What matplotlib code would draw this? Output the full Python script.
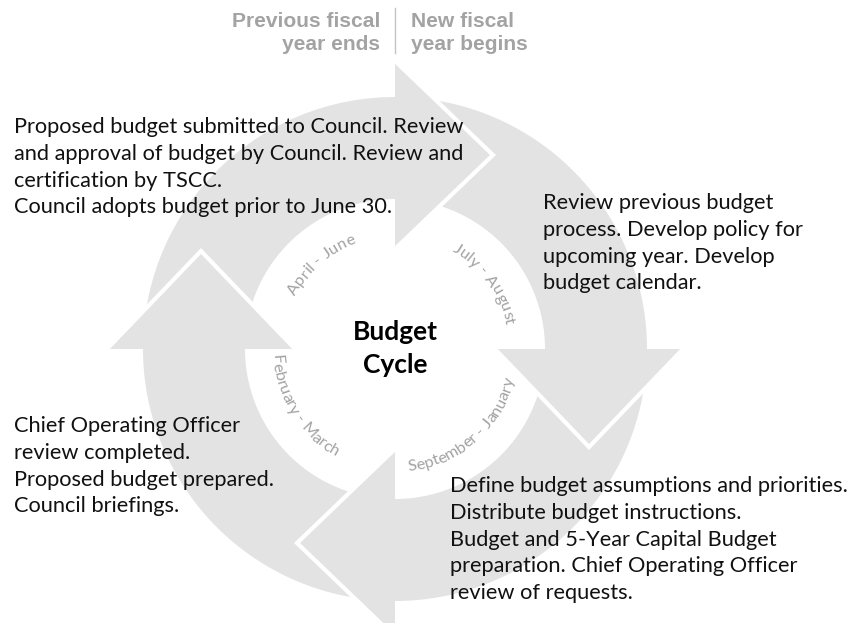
import numpy as np
import matplotlib
matplotlib.use('Agg')
import matplotlib.pyplot as plt
from matplotlib.patches import Polygon
from matplotlib.font_manager import FontProperties
from matplotlib.textpath import text_to_path

# header above the cycle
header_left = ['Previous fiscal', 'year ends']
header_right = ['New fiscal', 'year begins']

# periods written along the inner edge of the ring
periods = ['April - June', 'July - August', 'September - January', 'February - March']
period_angles = [131, 36, -49, 212]
period_clockwise = [True, True, False, False]

center_title = ['Budget', 'Cycle']

# step descriptions (one list of lines per block)
step_apr_jun = ['Proposed budget submitted to Council. Review',
                'and approval of budget by Council. Review and',
                'certification by TSCC.',
                'Council adopts budget prior to June 30.']
step_jul_aug = ['Review previous budget',
                'process. Develop policy for',
                'upcoming year. Develop',
                'budget calendar.']
step_sep_jan = ['Define budget assumptions and priorities.',
                'Distribute budget instructions.',
                'Budget and 5-Year Capital Budget',
                'preparation. Chief Operating Officer',
                'review of requests.']
step_feb_mar = ['Chief Operating Officer',
                'review completed.',
                'Proposed budget prepared.',
                'Council briefings.']

DPI = 100
W, H = 849, 623
cx, cy = 395, 349
body_in, body_out = 150, 252
head_in, head_out = 100, 288
head_len = 98
ring_color = '#e3e3e3'
PX = DPI / 72.0


def text_px(s, prop):
    w, h, d = text_to_path.get_text_width_height_descent(s, prop, ismath=False)
    return w * PX


def fit_size(s, target_px, prop):
    p = prop.copy()
    p.set_size(10)
    return 10 * target_px / text_px(s, p)


def to_screen(r, ang):
    a = np.radians(ang)
    return cx + r * np.cos(a), cy - r * np.sin(a)


def curved_text(ax, s, ang_c, r, clockwise, prop, color):
    total = text_px(s, prop)
    for i, ch in enumerate(s):
        if ch == ' ':
            continue
        right = text_px(s[:i + 1], prop)
        pos = right - text_px(ch, prop) / 2 - total / 2
        dth = np.degrees(pos / r)
        th = ang_c - dth if clockwise else ang_c + dth
        x, y = to_screen(r, th)
        rot = th - 90 if clockwise else th + 90
        ax.text(x, y, ch, rotation=rot, rotation_mode='anchor', ha='center',
                va='baseline', fontproperties=prop, color=color, zorder=5)


fig = plt.figure(figsize=(W / DPI, H / DPI), dpi=DPI)
ax = fig.add_axes([0, 0, 1, 1])
ax.set_xlim(0, W)
ax.set_ylim(H, 0)
ax.axis('off')

# ring: four arrows going clockwise, heads at top, right, bottom, left
head_angles = [90, 0, -90, -180]
for a_end in head_angles:
    a_start = a_end + 90
    t = np.linspace(a_start, a_end, 80)
    xo, yo = to_screen(body_out, t)
    xi, yi = to_screen(body_in, t[::-1])
    pts = np.column_stack([np.concatenate([xo, xi]), np.concatenate([yo, yi])])
    ax.add_patch(Polygon(pts, closed=True, facecolor=ring_color, edgecolor='none', zorder=1))

for a_end in head_angles:
    a = np.radians(a_end)
    mid = (head_in + head_out) / 2
    p_in = to_screen(head_in, a_end)
    p_out = to_screen(head_out, a_end)
    mx, my = to_screen(mid, a_end)
    tip = (mx + head_len * np.sin(a), my + head_len * np.cos(a))
    ax.add_patch(Polygon([p_in, p_out, tip], closed=True, facecolor=ring_color,
                         edgecolor='none', zorder=2))
    ax.plot([p_out[0], tip[0], p_in[0]], [p_out[1], tip[1], p_in[1]], color='white',
            lw=3, solid_joinstyle='miter', solid_capstyle='butt', zorder=3)

# period labels
lab_prop = FontProperties(family='Lato', size=11.8)
for s, ang, cw in zip(periods, period_angles, period_clockwise):
    curved_text(ax, s, ang, 113 if cw else 123, cw, lab_prop, '#a2a2a2')

# centre title
title_prop = FontProperties(family='Lato', weight='bold')
title_prop.set_size(fit_size('Budget', 85, title_prop))
for line, yb in zip(center_title, [340, 373]):
    ax.text(cx, yb, line, ha='center', va='baseline', fontproperties=title_prop,
            color='black', zorder=6)

# descriptions
body_prop = FontProperties(family='Lato')
sz = (fit_size(step_sep_jan[0], 398, body_prop) + fit_size(step_apr_jun[0], 452, body_prop)) / 2
body_prop.set_size(sz)
spacing = 26.8
blocks = [(step_apr_jun, 14, 133), (step_jul_aug, 543, 209),
          (step_sep_jan, 450, 492), (step_feb_mar, 14, 432)]
for lines, x0, y0 in blocks:
    for i, line in enumerate(lines):
        ax.text(x0, y0 + i * spacing, line, ha='left', va='baseline',
                fontproperties=body_prop, color='#111111', zorder=6)

# header
head_prop = FontProperties(family='Liberation Sans', weight='bold')
head_prop.set_size(fit_size(header_left[0], 148, head_prop))
for i, (l, r) in enumerate(zip(header_left, header_right)):
    yb = 27 + i * 22.6
    ax.text(380, yb, l, ha='right', va='baseline', fontproperties=head_prop, color='#a3a3a3')
    ax.text(411, yb, r, ha='left', va='baseline', fontproperties=head_prop, color='#a3a3a3')
ax.plot([395, 395], [8, 53], color='#c4c4c4', lw=1)

fig.savefig('out.png', dpi=DPI)
